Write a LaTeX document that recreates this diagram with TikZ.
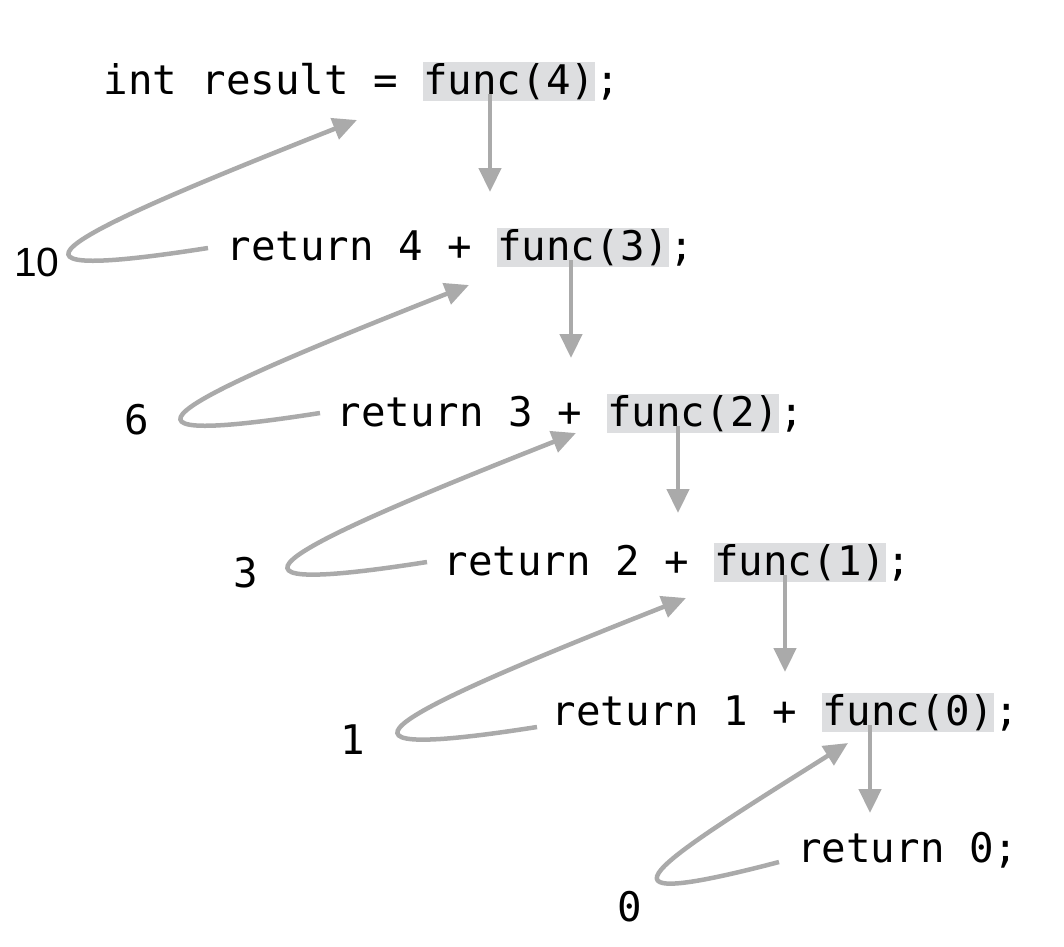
\documentclass[tikz,border=0pt]{standalone}
\usepackage{fontspec}
\setmonofont{DejaVu Sans Mono}
\setsansfont{Liberation Sans}
\usepackage{xcolor}
\usetikzlibrary{arrows.meta}

\definecolor{callhl}{RGB}{221,222,224}
\definecolor{flowgray}{RGB}{170,170,170}

\begin{document}
\begin{tikzpicture}[
  x=1pt, y=-1pt,
  every node/.style={font=\ttfamily\fontsize{40.8}{48}\selectfont,
                     inner sep=0pt},
  code/.style={anchor=base east},
  call/.style={anchor=base west, fill=callhl, text height=32pt,
               text depth=7pt},
  semi/.style={anchor=base west},
  val/.style={anchor=center},
  arr/.style={-{Triangle[length=24pt,width=22pt]}, line width=4.5pt,
              flowgray},
]
  \useasboundingbox (0,0) rectangle (1064,946);

  % Call lines
  \foreach \i/\x/\y/\pre/\arg in {0/423/94/int result =/4,
                                  1/497/260/return 4 +/3,
                                  2/607/426/return 3 +/2,
                                  3/714/575/return 2 +/1,
                                  4/822/725/return 1 +/0}
  {
    \node[call] (f\i) at (\x,\y) {func(\arg)};
    \node[code] (p\i) at (f\i.base west) {\pre\ \null};
    \node[semi] (c\i) at (f\i.base east) {;};
  }
  \node[semi] (f5) at (797,862) {return 0;};

  % Returned values
  \node[val] (v10) at (37,262)  {\sffamily 10};
  \node[val] (v6)  at (137,420) {6};
  \node[val] (v3)  at (246,573) {3};
  \node[val] (v1)  at (353,740) {1};
  \node[val] (v0)  at (630,907) {0};

  % Arrow ends
  \coordinate (d0) at (490,192);
  \coordinate (d1) at (571,358);
  \coordinate (d2) at (678,513);
  \coordinate (d3) at (785,672);
  \coordinate (d4) at (870,813);
  \coordinate (s1) at (208,248);
  \coordinate (s2) at (320,413);
  \coordinate (s3) at (427,562);
  \coordinate (s4) at (537,727);
  \coordinate (s5) at (779,862);
  \coordinate (u0) at (357,120);
  \coordinate (u1) at (469,285);
  \coordinate (u2) at (576,433);
  \coordinate (u3) at (686,598);
  \coordinate (u4) at (848,743);

  % Calls going down
  \foreach \i in {0,...,4}
    \draw[arr] (f\i.base -| d\i) -- (d\i);

  % Values going back up
  \foreach \a/\b in {s1/u0, s2/u1, s3/u2, s4/u3}
    \draw[arr] (\a) .. controls +(-255,40) and +(-279,110) .. (\b);
  \draw[arr] (s5) .. controls +(-210,55) and +(-189,119) .. (u4);

\end{tikzpicture}
\end{document}
